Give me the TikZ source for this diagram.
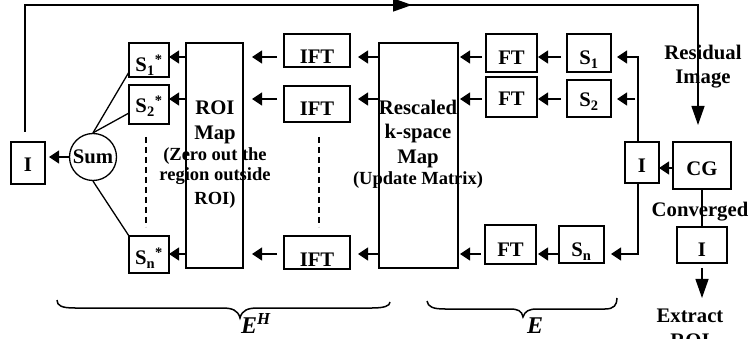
\documentclass[tikz,border=0pt]{standalone}
\usepackage{fontspec}
\setmainfont{Liberation Serif}
\usetikzlibrary{arrows.meta}

\tikzset{
  ln/.style={line width=1.3pt},
  arr/.style={ln, -{Triangle[length=10pt,width=13pt]}},
  bigarr/.style={ln, -{Triangle[length=19pt,width=13pt]}},
  txt/.style={font=\fontsize{20.7}{24}\selectfont\bfseries, inner sep=0pt, anchor=base},
  small/.style={font=\fontsize{18.5}{22}\selectfont\bfseries, inner sep=0pt, anchor=base},
  bx/.style n args={3}{draw, ln, txt, outer sep=0pt,
    minimum width=#1pt, text height=#2pt, text depth=#3pt},
  tall/.style={draw, ln, inner sep=0pt, outer sep=0pt, minimum height=225pt},
  dashline/.style={ln, dash pattern=on 6pt off 4pt},
  brace/.style={line width=1.5pt},
  lbl/.style={inner sep=0pt, anchor=base west, font=\fontsize{24}{24}\selectfont\bfseries\itshape},
}

\begin{document}
\begin{tikzpicture}[x=1pt,y=-1pt]
\useasboundingbox (0,0) rectangle (750,339);

% row levels of the horizontal arrows
\coordinate (r1) at (0,57);
\coordinate (r2) at (0,99);
\coordinate (r3) at (0,254);
\coordinate (r4) at (0,168);

% left part: coil images and sum
\node[bx={34}{30}{12}] (il) at (28,172) {I};
\node[draw, ln, circle, minimum size=47pt, inner sep=0pt, font=\fontsize{20.7}{24}\selectfont\bfseries] (sum) at (93,157) {Sum};
\node[bx={40}{29}{5}]  (s1s) at (149,72)  {S\textsubscript{1}\textsuperscript{*}};
\node[bx={40}{28}{11}] (s2s) at (149,113) {S\textsubscript{2}\textsuperscript{*}};
\node[bx={40}{29}{8}]  (sns) at (149,265) {S\textsubscript{n}\textsuperscript{*}};

% ROI map
\node[tall, minimum width=57pt] (roi) at (214.5,155.5) {};
\node[txt] (roiA) at (215,115) {ROI};
\node[txt] (roiB) at (215,140) {Map};
\node[small] (roiC) at (215,161) {(Zero out the};
\node[small] (roiD) at (215,181) {region outside};
\node[small] (roiE) at (215,205) {ROI)};

% inverse transforms
\node[bx={66}{30}{3}] (ift1) at (317,64)  {IFT};
\node[bx={66}{30}{6}] (ift2) at (317,116) {IFT};
\node[bx={66}{30}{3}] (ift3) at (317,266) {IFT};

% rescaled k-space map
\node[tall, minimum width=79pt] (resc) at (418.5,155.5) {};
\node[txt] (rsA) at (418,115) {Rescaled};
\node[txt] (rsB) at (418,139) {k-space};
\node[txt] (rsC) at (418,164) {Map};
\node[small] (rsD) at (418,185) {(Update Matrix)};

% forward transforms and sensitivities
\node[bx={51}{31}{7}]  (ft1) at (511.5,65)  {FT};
\node[bx={51}{29}{11}] (ft2) at (511.5,106) {FT};
\node[bx={51}{32}{7}]  (ft3) at (510.5,257) {FT};
\node[bx={44}{31}{7}]  (sa) at (589,65)  {S\textsubscript{1}};
\node[bx={44}{27}{10}] (sb) at (589,107) {S\textsubscript{2}};
\node[bx={45}{31}{6}]  (sc) at (581.5,257) {S\textsubscript{n}};

% right part: current image, CG, output
\node[bx={34}{31}{10}] (ir) at (642,173) {I};
\node[bx={58}{34}{13}] (cg) at (702,176) {CG};
\node[bx={50}{30}{6}]  (io) at (702,257) {I};
\node[txt] (resA) at (703,60) {Residual};
\node[txt] (resB) at (703,84) {Image};
\node[txt] (conv) at (700,217) {Converged};
\node[txt] (ext) at (690,323) {Extract};
\node[txt] (extroi) at (690,347) {ROI};

% arrows, row by row
\foreach \r/\s/\i/\f in {r1/s1s/ift1/ft1, r2/s2s/ift2/ft2, r3/sns/ift3/ft3}{
  \draw[arr] (roi.west |- \r) -- (\s.east |- \r);
  \draw[arr, shorten <=7pt, shorten >=9pt] (\i.west |- \r) -- (roi.east |- \r);
  \draw[arr, shorten >=8pt] (resc.west |- \r) -- (\i.east |- \r);
  \draw[arr, shorten <=4pt, shorten >=2pt] (\f.west |- \r) -- (resc.east |- \r);
}
\draw[arr, shorten <=6pt, shorten >=1pt] (sa.west |- r1) -- (ft1.east |- r1);
\draw[arr, shorten <=6pt, shorten >=1pt] (sb.west |- r2) -- (ft2.east |- r2);
\draw[arr, shorten >=2pt] (sc.west |- r3) -- (ft3.east |- r3);

\draw[arr, shorten >=6pt] ([xshift=-4pt]ir.north) |- (sa.east |- r1);
\draw[arr, shorten <=3pt, shorten >=6pt] ([xshift=-4pt]ir.north |- r2) -- (sb.east |- r2);
\draw[arr, shorten >=7pt] ([xshift=-4pt]ir.south) |- (sc.east |- r3);
\draw[arr] (cg.west |- r4) -- (ir.east |- r4);
\draw[ln] (cg.south) -- (io.north);
\coordinate (extip) at (702,298);
\draw[bigarr, shorten <=5pt] (io.south) -- (extip);

% sum connections
\draw[arr, shorten >=4pt] (sum.west) -- (il.east |- sum.west);
\draw[ln] (sum.north) -- ([yshift=5pt]s1s.south west);
\draw[ln] (sum.north) -- ([yshift=11pt]s2s.south west);
\draw[ln] (sum.south) -- (sns.north west);

% dashed continuation between channels
\draw[dashline] (146,137) -- (146,227);
\draw[dashline] (319,137) -- (319,227);

% residual feedback loop along the top
\coordinate (tl) at (25,5);
\coordinate (tr) at (698,5);
\coordinate (tm) at (412,5);
\draw[bigarr, shorten <=10pt, shorten >=17pt] ([xshift=-3pt]il.north) -- (tl) -- (tr) -- ([xshift=-4pt]cg.north);
\draw[bigarr] (tl) -- (tm);

% braces
\draw[brace] (57,300) .. controls (57,306) and (62,308) .. (75,308) -- (222,308)
  .. controls (232,308) and (238,310) .. (240,318)
  .. controls (242,310) and (248,308) .. (258,308) -- (372,308)
  .. controls (384,308) and (390,306) .. (390,302);
\draw[brace] (427,301) .. controls (428,307) and (433,309) .. (445,309) -- (510,309)
  .. controls (518,309) and (522,311) .. (523,317)
  .. controls (525,311) and (529,309) .. (537,309) -- (605,309)
  .. controls (614,309) and (617,305) .. (617,298);
\node[lbl] (eh) at (241,334) {E\textsuperscript{H}};
\node[lbl] (e) at (527,334) {E};
\end{tikzpicture}
\end{document}
